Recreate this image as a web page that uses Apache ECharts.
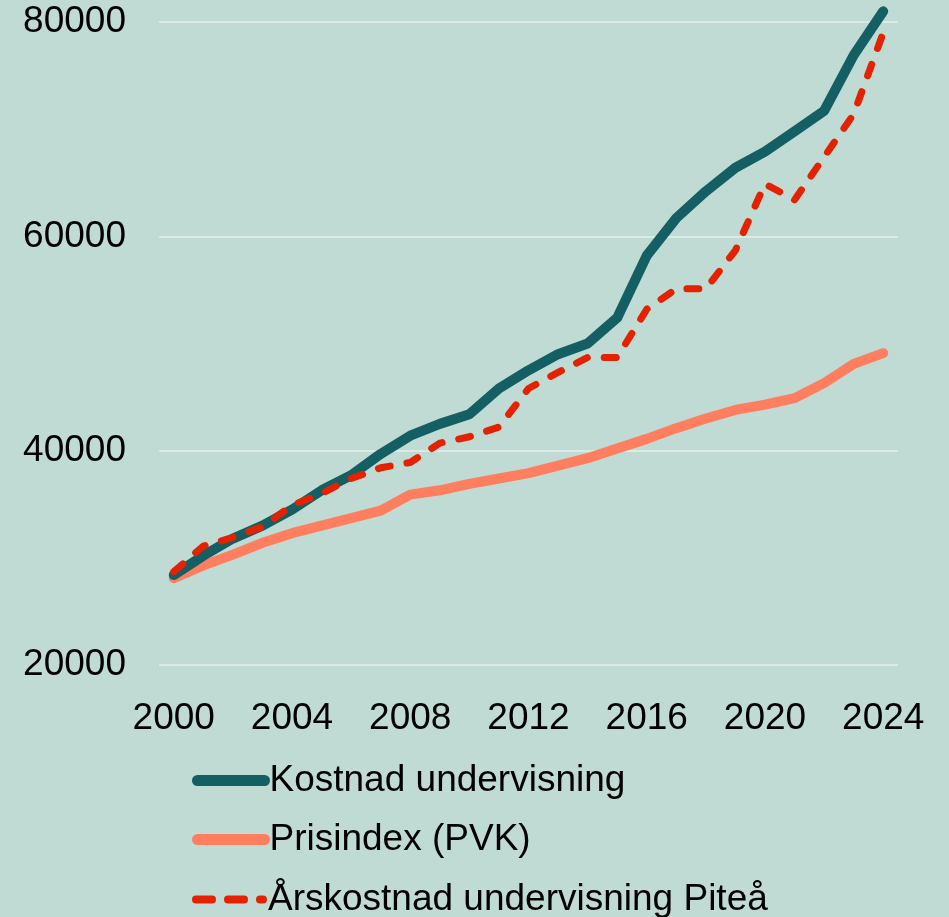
<!DOCTYPE html>
<html>
<head>
<meta charset="utf-8">
<style>
  html, body { margin: 0; padding: 0; background: #bfdbd3; }
  #chart { width: 949px; height: 917px; }
</style>
<script src="https://cdn.jsdelivr.net/npm/echarts@6/dist/echarts.min.js"></script>
</head>
<body>
<div id="chart"></div>
<script>
// Years on the category axis
const years = ['2000','2001','2002','2003','2004','2005','2006','2007','2008','2009',
  '2010','2011','2012','2013','2014','2015','2016','2017','2018','2019',
  '2020','2021','2022','2023','2024'];

// Kostnad undervisning
const kostnad = [28400, 30200, 31800, 33000, 34500, 36300, 37700, 39700, 41400, 42500,
  43400, 45800, 47500, 49000, 50000, 52400, 58200, 61700, 64200, 66400,
  67900, 69800, 71700, 76900, 81000];

// Prisindex (PVK)
const prisindex = [28100, 29300, 30300, 31400, 32300, 33000, 33700, 34400, 35900, 36300,
  36900, 37400, 37900, 38600, 39300, 40200, 41100, 42100, 43000, 43800,
  44300, 44900, 46300, 48100, 49100];

// Årskostnad undervisning Piteå
const arskostnad = [28700, 31100, 31900, 32900, 34900, 36000, 37400, 38400, 38900, 40700,
  41300, 42200, 45800, 47300, 48700, 48700, 53200, 55100, 55100, 58700,
  64900, 63400, 67400, 71400, 79000];

const yTicks = { min: 20000, max: 80000, step: 20000 };

const seriesNames = ['Kostnad undervisning', 'Prisindex (PVK)', 'Årskostnad undervisning Piteå'];
const colors = ['#135f63', '#ff7e5f', '#e52200'];

const font = 'Liberation Sans, Arial, sans-serif';
const fontSize = 37;

// One legend block per series, stacked vertically below the plot
const legendTops = [762, 821, 881];
const legendLines = [
  { width: 11 },
  { width: 11 },
  { width: 8, type: [16, 16] }
];
const legends = seriesNames.map((name, i) => ({
  orient: 'vertical',
  left: 192,
  top: legendTops[i],
  padding: 0,
  itemWidth: 67,
  itemHeight: 11,
  itemStyle: { opacity: 0 },
  lineStyle: Object.assign({ color: colors[i], cap: 'round' }, legendLines[i]),
  textStyle: { color: '#000', fontFamily: font, fontSize: fontSize },
  data: [name]
}));

const chart = echarts.init(document.getElementById('chart'), null, { renderer: 'canvas' });

chart.setOption({
  backgroundColor: '#bfdbd3',
  animation: false,
  grid: { left: 159, right: 51, top: 22, bottom: 252, containLabel: false },
  xAxis: {
    type: 'category',
    data: years,
    boundaryGap: true,
    axisLine: { show: false },
    axisTick: { show: false },
    axisLabel: {
      interval: 3,
      margin: 35,
      color: '#000',
      fontFamily: font,
      fontSize: fontSize
    },
    splitLine: { show: false }
  },
  yAxis: {
    type: 'value',
    min: yTicks.min,
    max: yTicks.max,
    interval: yTicks.step,
    axisLine: { show: false },
    axisTick: { show: false },
    axisLabel: {
      margin: 33,
      color: '#000',
      fontFamily: font,
      fontSize: fontSize,
      formatter: v => String(v)
    },
    splitLine: { lineStyle: { color: '#dceae6', width: 2 } }
  },
  legend: legends,
  series: [
    {
      name: seriesNames[0],
      type: 'line',
      data: kostnad,
      symbol: 'circle',
      showSymbol: false,
      clip: false,
      color: colors[0],
      lineStyle: { width: 10, color: colors[0], cap: 'round', join: 'round' },
      z: 3
    },
    {
      name: seriesNames[1],
      type: 'line',
      data: prisindex,
      symbol: 'circle',
      showSymbol: false,
      clip: false,
      color: colors[1],
      lineStyle: { width: 10, color: colors[1], cap: 'round', join: 'round' },
      z: 2
    },
    {
      name: seriesNames[2],
      type: 'line',
      data: arskostnad,
      symbol: 'circle',
      showSymbol: false,
      clip: false,
      color: colors[2],
      lineStyle: { width: 7, color: colors[2], type: [12, 17], cap: 'round', join: 'round' },
      z: 4
    }
  ]
});
</script>
</body>
</html>
